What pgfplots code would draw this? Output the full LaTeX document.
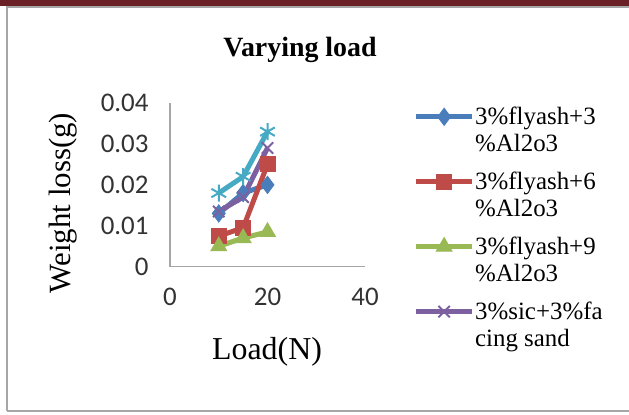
\documentclass[border=0pt]{standalone}
\usepackage{pgfplots}
\pgfplotsset{compat=1.18}
\usepackage{fontspec}
\setmainfont{Liberation Serif}
\newfontfamily\tickfont{Carlito}
\definecolor{cblue}{HTML}{4A7EBB}
\definecolor{cred}{HTML}{BE4B48}
\definecolor{cgreen}{HTML}{98B954}
\definecolor{cpurple}{HTML}{7D60A0}
\definecolor{ccyan}{HTML}{46AAC5}
\definecolor{strip}{HTML}{6A2024}
\begin{document}
\begin{tikzpicture}
\path[use as bounding box] (0bp,0bp) rectangle (629bp,415bp);
\fill[strip] (0bp,409bp) rectangle (629bp,415bp);
\draw[gray!70, line width=1.5bp] (7bp,4bp) -- (7bp,408bp) -- (629bp,408bp);
\draw[gray!70, line width=1.5bp] (7bp,4bp) -- (629bp,4bp);
\node[font=\fontsize{28}{30}\selectfont\bfseries] at (300bp,365bp) {Varying load};
\node[font=\fontsize{31}{33}\selectfont, rotate=90] at (63bp,212bp) {Weight loss(g)};
\node[font=\fontsize{32}{34}\selectfont] at (267bp,63bp) {Load(N)};
\begin{axis}[
  at={(170bp,148.3bp)}, anchor=south west,
  scale only axis, width=195bp, height=163.7bp,
  xmin=0, xmax=40, ymin=0, ymax=0.04,
  xtick={0,20,40}, xticklabels={0,20,40},
  ytick={0,0.01,0.02,0.03,0.04},
  yticklabels={0,0.01,0.02,0.03,0.04},
  scaled y ticks=false,
  axis x line*=bottom, axis y line*=left,
  axis line style={gray!70, line width=1.5bp, -},
  major tick length=0pt,
  ticklabel style={font=\fontsize{27}{29}\selectfont\tickfont, text=black!80},
  xticklabel style={yshift=-18bp},
  yticklabel style={xshift=-18bp},
  clip=false,
  legend cell align=left,
  legend style={at={(1.246,0.993)}, anchor=north west, draw=none, fill=none,
    font=\fontsize{25}{27}\selectfont, row sep=17bp,
    nodes={align=left, inner sep=1bp}},
  legend image code/.code={
    \path[draw=none,fill=none] (0bp,-5bp) rectangle (58bp,5bp);
    \draw[overlay, yshift=13.5bp, mark repeat=2,mark phase=2,#1] plot coordinates {(0bp,0bp) (28bp,0bp) (56bp,0bp)};
  },
]
\addplot[cblue, line width=5bp, mark=diamond*, mark size=8.5bp, mark options={line width=1bp}]
  coordinates {(10,0.013) (15,0.018) (20,0.020)};
\addlegendentry{3\%flyash+3\\\%Al2o3}
\addplot[cred, line width=5bp, mark=square*, mark size=7.5bp, mark options={line width=1bp}]
  coordinates {(10,0.0075) (15,0.0095) (20,0.025)};
\addlegendentry{3\%flyash+6\\\%Al2o3}
\addplot[cgreen, line width=5bp, mark=triangle*, mark size=9bp, mark options={line width=1bp}]
  coordinates {(10,0.005) (15,0.007) (20,0.0085)};
\addlegendentry{3\%flyash+9\\\%Al2o3}
\addplot[cpurple, line width=5bp, mark=x, mark size=8bp, mark options={line width=2bp}]
  coordinates {(10,0.0135) (15,0.017) (20,0.029)};
\addlegendentry{3\%sic+3\%fa\\cing sand}
\addplot[ccyan, line width=5bp, mark=asterisk, mark size=8.5bp, mark options={line width=2bp}, forget plot]
  coordinates {(10,0.018) (15,0.022) (20,0.033)};
\end{axis}
\end{tikzpicture}
\end{document}
